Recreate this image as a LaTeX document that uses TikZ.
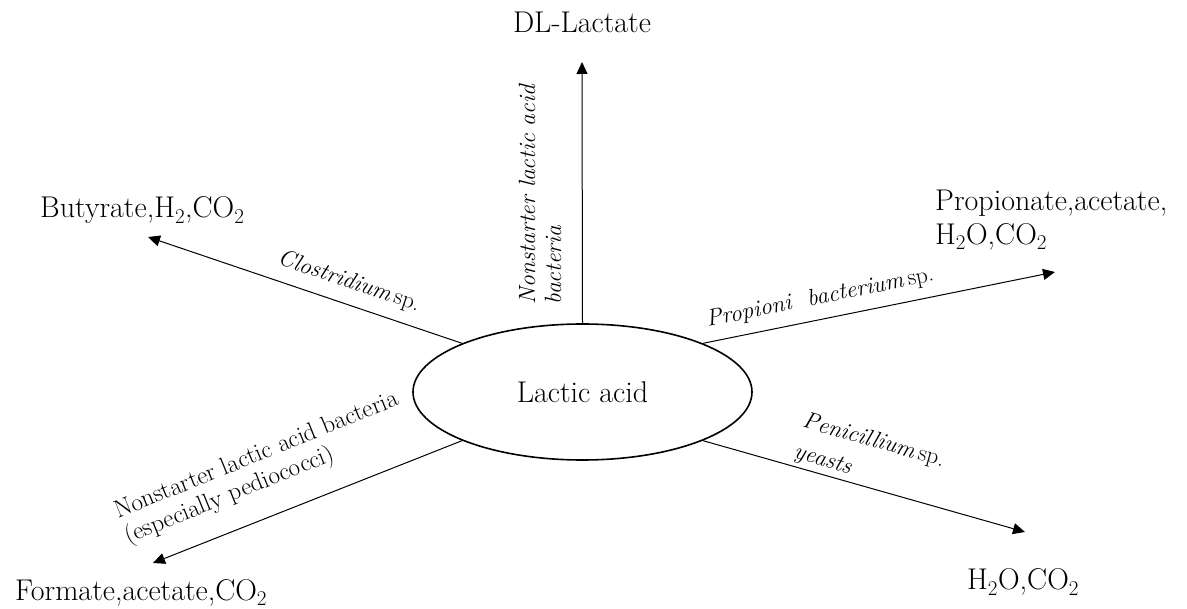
\documentclass[tikz,border=0pt]{standalone}
\usepackage{fontspec}
\usetikzlibrary{arrows.meta,shapes.geometric}
\tikzset{
  prod/.style={font=\fontsize{30}{34}\selectfont, inner sep=0pt},
  lab/.style={font=\fontsize{23.5}{26}\selectfont, inner sep=0pt},
  ulab/.style={font=\fontsize{25}{27}\selectfont, inner sep=0pt},
  arr/.style={line width=1pt, -{Triangle[length=12pt,width=11pt]}},
  hub/.style={ellipse, draw, line width=1.6pt, minimum width=339pt, minimum height=136pt, inner sep=0pt, font=\fontsize{30}{34}\selectfont}
}
\begin{document}
\begin{tikzpicture}[x=1pt,y=-1pt]
\useasboundingbox (0,0) rectangle (1187,609);
\node[hub] (la) at (582.5,392) {Lactic acid};
% arrow tips
\coordinate (tDL) at (582,62);
\coordinate (tBu) at (148,237);
\coordinate (tPr) at (1055,272);
\coordinate (tH) at (1025,532);
\coordinate (tFo) at (153,563);
% products
\node[prod, anchor=base] (dl) at (582,33) {DL-Lactate};
\node[prod, anchor=base west] (bu) at (40,218) {Butyrate,H\textsubscript{2},CO\textsubscript{2}};
\node[prod, anchor=north west, align=left] (pr) at (935,189.5) {Propionate,acetate,\\H\textsubscript{2}O,CO\textsubscript{2}};
\node[prod, anchor=base west] (hw) at (967,590) {H\textsubscript{2}O,CO\textsubscript{2}};
\node[prod, anchor=base west] (fo) at (15,600) {Formate,acetate,CO\textsubscript{2}};
% connectors
\draw[arr] (la.90) -- (tDL);
\draw[arr] (la.158) -- (tBu);
\draw[arr] (la.22) -- (tPr);
\draw[arr] (la.338) -- (tH);
\draw[arr] (la.202) -- (tFo);
% labels
\node[lab, rotate=90, align=left] (lv) at (540,194) {\textit{Nonstarter lactic acid}\\\textit{bacteria}};
\node[lab, rotate=-18.6] (lc) at (349,282) {\textit{Clostridium}\,sp.};
\node[lab, rotate=11.5] (lp) at (820,298) {\textit{Propioni\ \ bacterium}\,sp.};
\node[lab, rotate=-15.8, align=left, anchor=north west, font=\fontsize{23.5}{32}\selectfont] (lpe) at (806,411) {\textit{Penicillium}\,sp.\\\textit{yeasts}};
\node[ulab, rotate=22, align=left] (ln) at (262,469) {Nonstarter lactic acid bacteria\\(especially pediococci)};
\end{tikzpicture}
\end{document}
